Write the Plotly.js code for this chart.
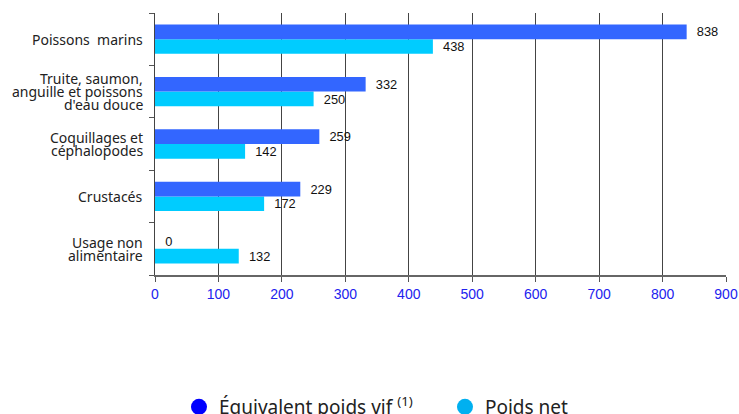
<!DOCTYPE html>
<html><head><meta charset="utf-8">
<script src="https://cdn.plot.ly/plotly-3.0.1.min.js"></script>
<style>html,body{margin:0;padding:0;background:#fff}#c{width:739px;height:414px}</style>
</head><body><div id="c"></div>
<script>
const categories = ["Poissons  marins", "Truite, saumon,<br>anguille et poissons<br>d'eau douce", "Coquillages et<br>céphalopodes", "Crustacés", "Usage non<br>alimentaire"];
const poidsVif = [838, 332, 259, 229, 0];
const poidsNet = [438, 250, 142, 172, 132];
const xTicks = [0, 100, 200, 300, 400, 500, 600, 700, 800, 900];
const seriesNames = ["Équivalent poids vif <sup>(1)</sup>", "Poids net"];

const order = categories.slice().reverse();
const lblFont = {family: "Liberation Sans, Arial, sans-serif", size: 14, color: "#111"};

const traces = [
  {type: "bar", orientation: "h", y: categories, x: poidsNet, name: seriesNames[1], showlegend: false,
   marker: {color: "#00CCFF"}, texttemplate: "\u00a0\u00a0%{x}", textposition: "outside",
   cliponaxis: false, textfont: lblFont},
  {type: "bar", orientation: "h", y: categories, x: poidsVif, name: seriesNames[0], showlegend: false,
   marker: {color: "#3366FF"}, texttemplate: "\u00a0\u00a0%{x}", textposition: "outside",
   cliponaxis: false, textfont: lblFont},
  {type: "scatter", mode: "markers", x: [null], y: [null], name: seriesNames[0],
   marker: {color: "#0000FF", size: 16, symbol: "circle"}},
  {type: "scatter", mode: "markers", x: [null], y: [null], name: seriesNames[1],
   marker: {color: "#00B0F0", size: 16, symbol: "circle"}}
];

// category labels drawn as annotations, one per line, for tight line spacing
const catFont = {family: "Noto Sans, sans-serif", size: 14, color: "#222"};
const annotations = [];
categories.forEach(c => {
  const lines = c.split("<br>");
  const step = 13;
  lines.forEach((ln, i) => {
    annotations.push({xref: "paper", yref: "y", x: 0, y: c, text: ln, showarrow: false,
      xanchor: "right", yanchor: "middle", xshift: -10, yshift: ((lines.length - 1) / 2 - i) * step,
      font: catFont});
  });
});

const layout = {
  width: 739, height: 414,
  margin: {l: 155, r: 13, t: 13, b: 139, autoexpand: false},
  paper_bgcolor: "#fff", plot_bgcolor: "#fff",
  barmode: "group", bargap: 0.44, bargroupgap: 0,
  showlegend: true,
  legend: {orientation: "h", x: 0.042, xanchor: "left", xref: "paper", y: 0.017, yanchor: "middle", yref: "container",
           entrywidth: 221,
           font: {family: "Noto Sans, sans-serif", size: 19, color: "#222"}},
  annotations: annotations,
  xaxis: {range: [0, 900], tickvals: xTicks, ticktext: xTicks.map(String),
          showgrid: true, gridcolor: "#444", gridwidth: 1, zeroline: false,
          showline: true, linecolor: "#666", linewidth: 2,
          ticks: "outside", ticklen: 5, tickcolor: "#555",
          tickfont: {family: "Liberation Sans, Arial, sans-serif", size: 14, color: "#2222EE"}},
  yaxis: {type: "category", categoryorder: "array", categoryarray: order,
          showgrid: false, zeroline: false, showline: true, linecolor: "#444", linewidth: 1,
          ticks: "outside", ticklen: 5, tickcolor: "#555", tickson: "boundaries",
          showticklabels: false}
};

Plotly.newPlot("c", traces, layout, {displayModeBar: false, staticPlot: true});
</script></body></html>
